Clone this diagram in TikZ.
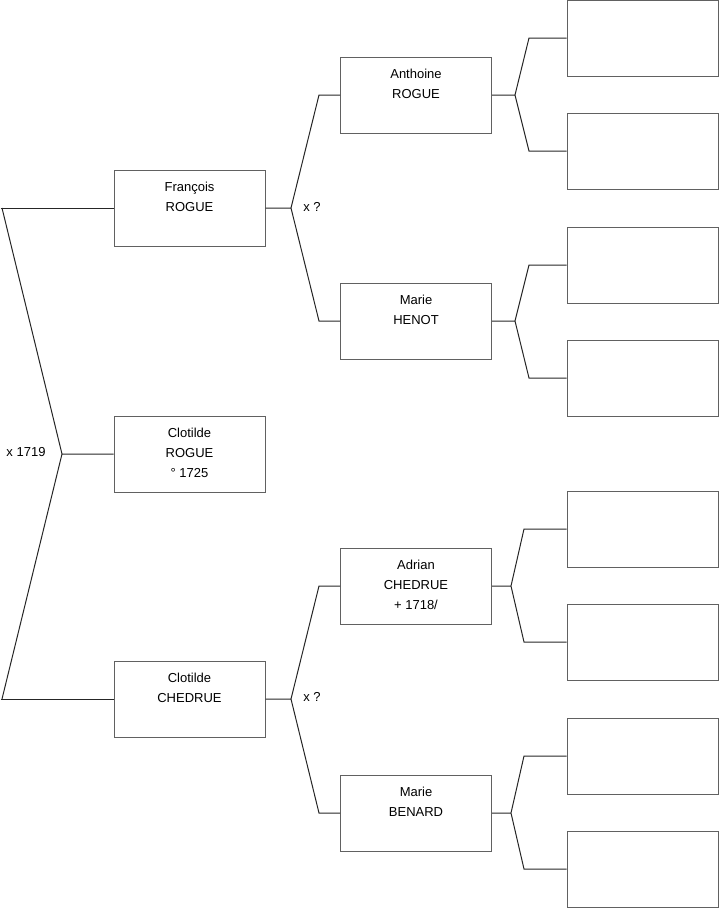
\documentclass[tikz,border=0pt]{standalone}
\usepackage{fontspec}
\setmainfont{Liberation Sans}
\begin{document}
\begin{tikzpicture}[x=1pt,y=-1pt,
  box/.style={draw=black!62, line width=1pt, minimum width=151pt, minimum height=76pt, inner sep=0pt, fill=white},
  txt/.style={font=\fontsize{13}{20}\selectfont, align=center, inner sep=0pt, anchor=north},
  lbl/.style={font=\fontsize{13}{15}\selectfont, inner sep=0pt},
  conn/.style={draw=black!85, line width=1pt}]
\useasboundingbox (0,0) rectangle (719,908);
% generation 1
\node[box] (fr) at (189.5,208) {};
\node[box] (cr) at (189.5,454) {};
\node[box] (cc) at (189.5,699) {};
% generation 2
\node[box] (an) at (416,95) {};
\node[box] (mh) at (416,321) {};
\node[box] (ad) at (416,586) {};
\node[box] (mb) at (416,813) {};
% generation 3
\node[box] (r1) at (642.5,38) {};
\node[box] (r2) at (642.5,151) {};
\node[box] (r3) at (642.5,265) {};
\node[box] (r4) at (642.5,378) {};
\node[box] (r5) at (642.5,529) {};
\node[box] (r6) at (642.5,642) {};
\node[box] (r7) at (642.5,756) {};
\node[box] (r8) at (642.5,869) {};
% texts
\node[txt] (tfr) at ([yshift=-12pt]fr.north) {François\\ROGUE};
\node[txt] (tcr) at ([yshift=-12pt]cr.north) {Clotilde\\ROGUE\\° 1725\ };
\node[txt] (tcc) at ([yshift=-12pt]cc.north) {Clotilde\\CHEDRUE};
\node[txt] (tan) at ([yshift=-12pt]an.north) {Anthoine\\ROGUE};
\node[txt] (tmh) at ([yshift=-12pt]mh.north) {Marie\\HENOT};
\node[txt] (tad) at ([yshift=-12pt]ad.north) {Adrian\\CHEDRUE\\+ 1718/};
\node[txt] (tmb) at ([yshift=-12pt]mb.north) {Marie\\BENARD};
% fork coordinates
\coordinate (j0) at (62,454);
\coordinate (a0) at (2,208);
\coordinate (b0) at (2,699);
\coordinate (a0s) at (0.5,208);
\coordinate (b0s) at (0.5,699);
\coordinate (j1) at (291,208);
\coordinate (a1) at (319,95);
\coordinate (b1) at (319,321);
\coordinate (j2) at (291,699);
\coordinate (a2) at (319,586);
\coordinate (b2) at (319,813);
\coordinate (j3) at (515,95);
\coordinate (a3) at (529,38);
\coordinate (b3) at (529,151);
\coordinate (j4) at (515,321);
\coordinate (a4) at (529,265);
\coordinate (b4) at (529,378);
\coordinate (j5) at (511,586);
\coordinate (a5) at (524,529);
\coordinate (b5) at (524,642);
\coordinate (j6) at (511,813);
\coordinate (a6) at (524,756);
\coordinate (b6) at (524,869);
% connectors
\draw[conn] (cr.west) -- (j0) (a0) -- (j0) -- (b0);
\draw[conn] (a0s) -- (fr.west) (b0s) -- (cc.west);
\draw[conn] (fr.east) -- (j1) (an.west) -- (a1) -- (j1) -- (b1) -- (mh.west);
\draw[conn] (cc.east) -- (j2) (ad.west) -- (a2) -- (j2) -- (b2) -- (mb.west);
\draw[conn] (an.east) -- (j3) (r1.west) -- (a3) -- (j3) -- (b3) -- (r2.west);
\draw[conn] (mh.east) -- (j4) (r3.west) -- (a4) -- (j4) -- (b4) -- (r4.west);
\draw[conn] (ad.east) -- (j5) (r5.west) -- (a5) -- (j5) -- (b5) -- (r6.west);
\draw[conn] (mb.east) -- (j6) (r7.west) -- (a6) -- (j6) -- (b6) -- (r8.west);
% labels
\node[lbl] (m0) at (26,452) {x 1719};
\node[lbl] (m1) at (312,207) {x ?};
\node[lbl] (m2) at (312,697) {x ?};
\end{tikzpicture}
\end{document}
